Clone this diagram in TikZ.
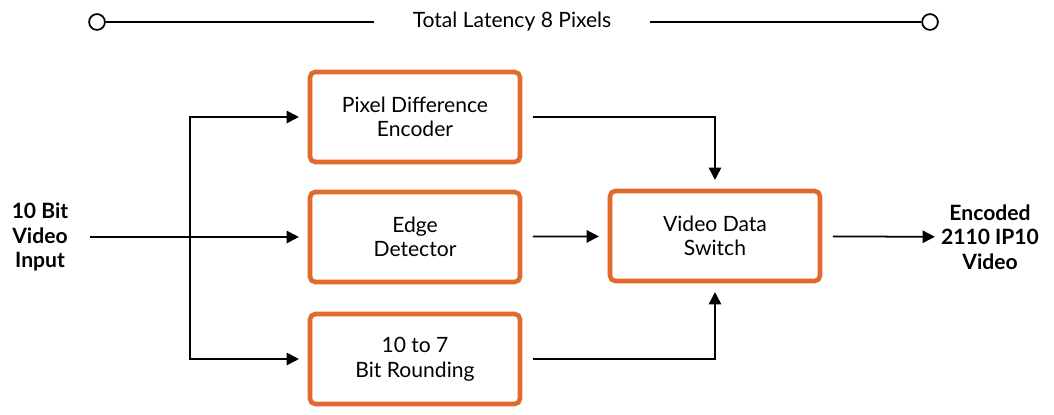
\documentclass[tikz,border=0pt]{standalone}
\usepackage{fontspec}
\setmainfont{Lato}
\usetikzlibrary{positioning,arrows.meta}
\definecolor{orange}{RGB}{226,106,44}
\tikzset{
  blk/.style={draw=orange, line width=2.6pt, rounded corners=3pt, minimum width=4.2cm, minimum height=1.8cm, align=center, font=\large},
  arr/.style={-{Triangle[length=7pt,width=7pt]}, line width=1pt, shorten >=5pt},
  lbl/.style={align=center, font=\large\bfseries}
}
\begin{document}
\begin{tikzpicture}[x=0.02cm, y=-0.02cm]
        \useasboundingbox (0,0) rectangle (1054,415);
        % nodes %
        \node[blk] (pde) at (415,117) {Pixel Difference\\Encoder};
        \node[blk] (edge) at (415,237) {Edge\\Detector};
        \node[blk] (round) at (415,359) {10 to 7\\Bit Rounding};
        \node[blk] (switch) at (715,236) {Video Data\\Switch};
        \node[lbl] (in) at (40,237) {10 Bit\\Video\\Input};
        \node[lbl] (out) at (990,237) {Encoded\\2110 IP10\\Video};
        \node[font=\large, inner xsep=22pt] (lat) at (512,22) {Total Latency 8 Pixels};
        \node[draw, circle, line width=1pt, minimum size=9pt, inner sep=0pt] (c1) at (97,22) {};
        \node[draw, circle, line width=1pt, minimum size=9pt, inner sep=0pt] (c2) at (930,22) {};
        \coordinate (split) at (190,237);
        % edges %
        \draw[line width=1pt] (c1) -- (lat);
        \draw[line width=1pt] (lat) -- (c2);
        \draw[arr] (in.east -| 90,0) -- (edge);
        \draw[arr] (split) |- (pde);
        \draw[arr] (split) |- (round);
        \draw[arr, shorten <=6pt] (pde) -| (switch);
        \draw[arr, shorten <=6pt] (round) -| (switch);
        \draw[arr, shorten <=6pt] (edge) -- (switch);
        \draw[arr, shorten <=6pt, shorten >=0pt] (switch) -- (out);
\end{tikzpicture}
\end{document}
